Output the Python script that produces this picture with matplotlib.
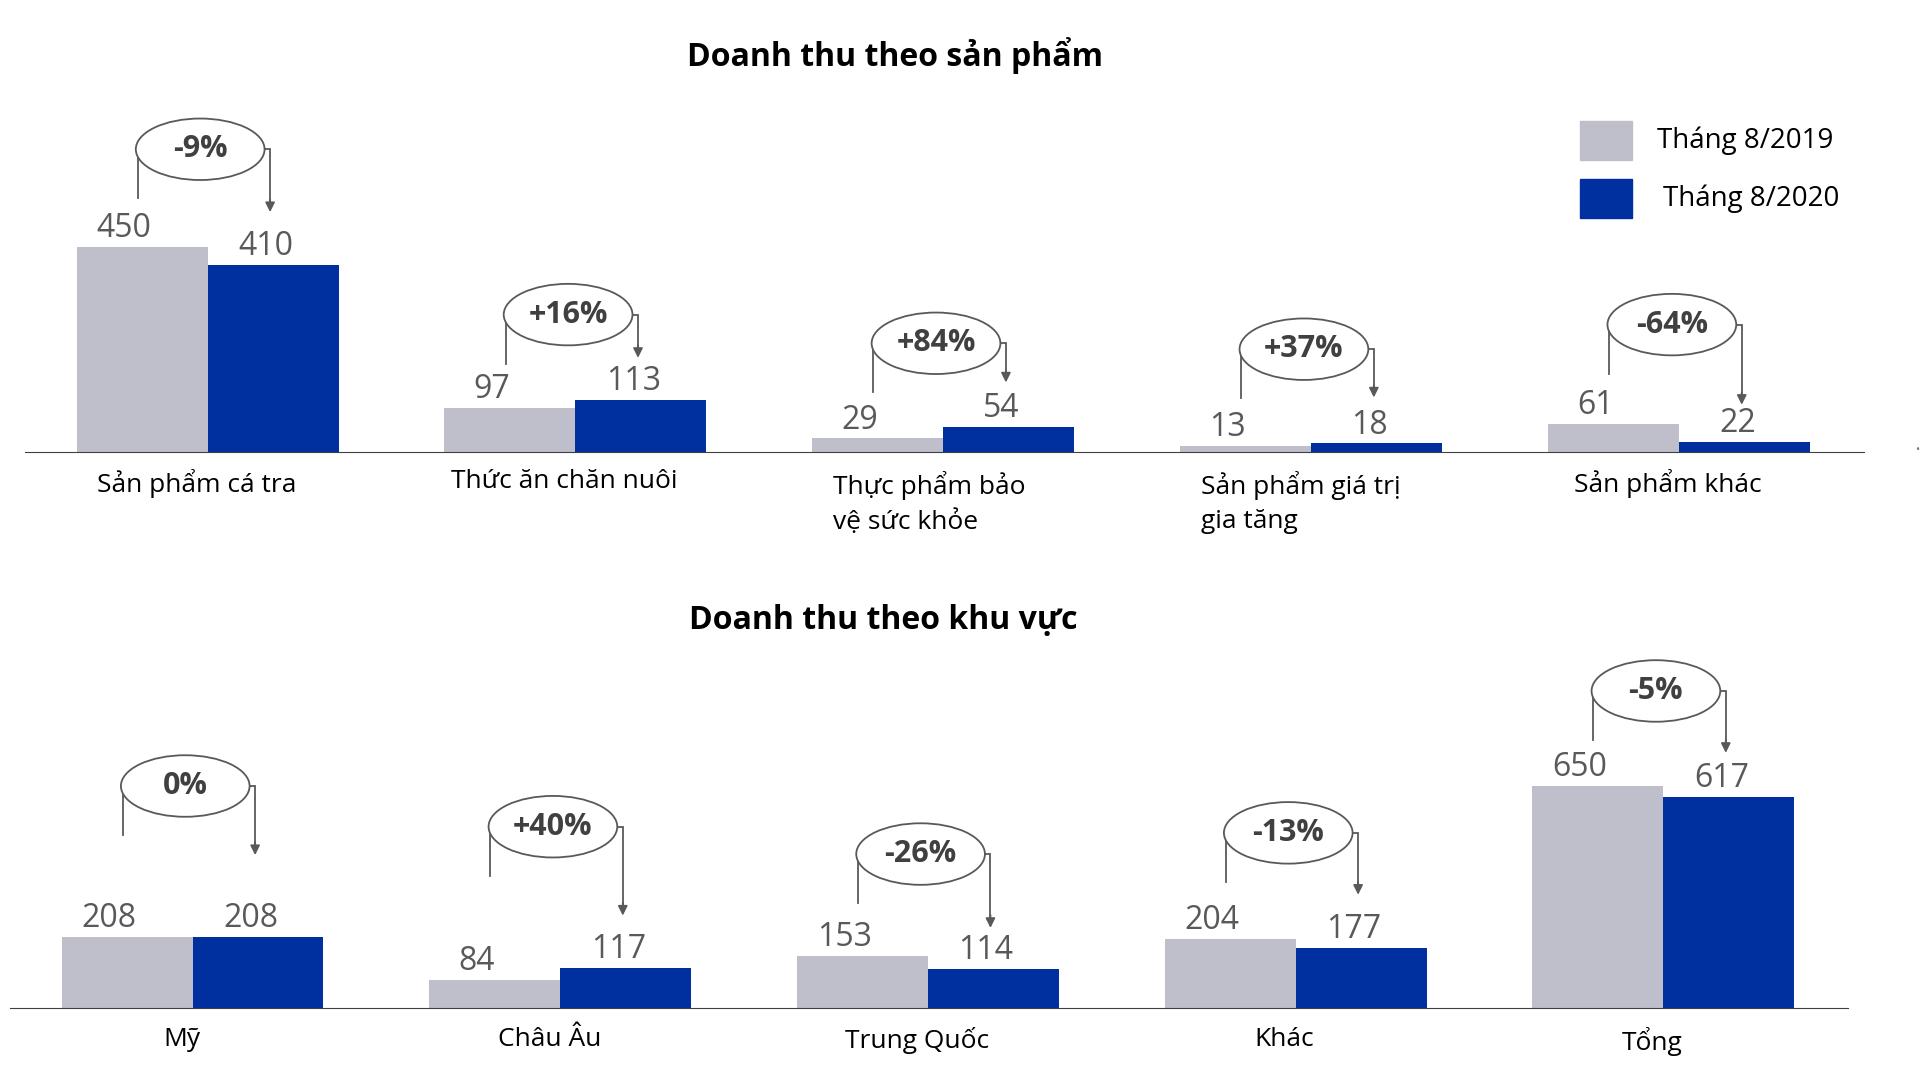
import matplotlib
matplotlib.use("Agg")
import matplotlib.pyplot as plt
from matplotlib.patches import Ellipse, Rectangle

plt.rcParams['font.family'] = ['Open Sans', 'DejaVu Sans']

GRAY = "#BEBFCB"
BLUE = "#0030A0"
TXT = "#595959"

# data
prod_cats = ["Sản phẩm cá tra", "Thức ăn chăn nuôi", "Thực phẩm bảo\nvệ sức khỏe",
             "Sản phẩm giá trị\ngia tăng", "Sản phẩm khác"]
prod_2019 = [450, 97, 29, 13, 61]
prod_2020 = [410, 113, 54, 18, 22]
prod_pct = ["-9%", "+16%", "+84%", "+37%", "-64%"]

reg_cats = ["Mỹ", "Châu Âu", "Trung Quốc", "Khác", "Tổng"]
reg_2019 = [208, 84, 153, 204, 650]
reg_2020 = [208, 117, 114, 177, 617]
reg_pct = ["0%", "+40%", "-26%", "-13%", "-5%"]

# layout of the change brackets (data units)
prod_ell_y = [664, 301, 238, 225, 279]
prod_arrow_y = [526, 206, 152, 119, 103]
reg_ell_y = [650, 531, 451, 513, 928]
reg_arrow_y = [448, 271, 235, 332, 747]

W, H = 1560, 880
fig = plt.figure(figsize=(19.26, 10.86), dpi=100)


def make_axes(left, right, base, top, ymax):
    ax = fig.add_axes([left / W, 1 - base / H, (right - left) / W, (base - top) / H])
    ax.set_xlim(-0.497, 4.503)
    ax.set_ylim(0, ymax)
    for s in ["top", "right", "left"]:
        ax.spines[s].set_visible(False)
    ax.spines["bottom"].set_color("#404040")
    ax.set_xticks([])
    ax.set_yticks([])
    ax.patch.set_alpha(0)
    return ax


def draw(ax, cats, a, b, pct, ell_y, arr_y, ell_h, left_align):
    bw = 0.356
    xs = range(len(cats))
    ax.bar([x - bw / 2 for x in xs], a, bw, color=GRAY)
    ax.bar([x + bw / 2 for x in xs], b, bw, color=BLUE)
    ymax = ax.get_ylim()[1]
    for i in xs:
        ax.text(i - bw / 2 - 0.05, a[i] + ymax * 0.005, str(a[i]), ha="center",
                va="bottom", fontsize=23, color=TXT)
        ax.text(i + bw / 2 - 0.02, b[i] + ymax * 0.005, str(b[i]), ha="center",
                va="bottom", fontsize=23, color=TXT)
        xl, xr = i - 0.19, i + 0.17
        ls = ell_y[i] - ell_h * 0.8
        ax.plot([xl, xl, xr, xr], [ls, ell_y[i], ell_y[i], arr_y[i] + ymax * 0.03],
                color="#595959", lw=1.3, solid_joinstyle="miter")
        ax.annotate("", xy=(xr, arr_y[i]), xytext=(xr, arr_y[i] + ymax * 0.035),
                    arrowprops=dict(arrowstyle="-|>", color="#595959", lw=1.3,
                                    mutation_scale=14, shrinkA=0, shrinkB=0))
        ax.add_patch(Ellipse((i - 0.02, ell_y[i]), 0.35, ell_h, facecolor="white",
                             edgecolor="#595959", lw=1.3, zorder=3))
        ax.text(i - 0.02, ell_y[i], pct[i], ha="center", va="center",
                fontsize=22, fontweight="bold", color="#404040", zorder=4)
        label = cats[i]
        if "\n" in label and left_align:
            ax.text(i - 0.3, -ymax * 0.055, label, ha="left", va="top",
                    fontsize=19, color="black", linespacing=1.45)
        else:
            ax.text(i - 0.03, -ymax * 0.05, label, ha="center", va="top",
                    fontsize=19, color="black")


ax1 = make_axes(20, 1510, 366, 80, 775)
draw(ax1, prod_cats, prod_2019, prod_2020, prod_pct, prod_ell_y, prod_arrow_y,
     135, True)
ax2 = make_axes(8, 1497, 817, 520, 1072)
draw(ax2, reg_cats, reg_2019, reg_2020, reg_pct, reg_ell_y, reg_arrow_y,
     180, False)

fig.text(725 / W, 1 - 45 / H, "Doanh thu theo sản phẩm", ha="center", va="center",
         fontsize=23, fontweight="bold")
fig.text(715 / W, 1 - 503 / H, "Doanh thu theo khu vực", ha="center", va="center",
         fontsize=23, fontweight="bold")

# legend
for (y0, col, lab, tx) in [(98, GRAY, "Tháng 8/2019", 1342), (145, BLUE, "Tháng 8/2020", 1347)]:
    fig.patches.append(Rectangle((1280 / W, 1 - (y0 + 32) / H), 42 / W, 32 / H,
                                 transform=fig.transFigure, color=col))
    fig.text(tx / W, 1 - (y0 + 16) / H, lab, ha="left", va="center", fontsize=20)
fig.text(1553 / W, 1 - 365 / H, "•", ha="center", va="center", fontsize=8, color="#777777")

fig.savefig("out.png", dpi=100)
